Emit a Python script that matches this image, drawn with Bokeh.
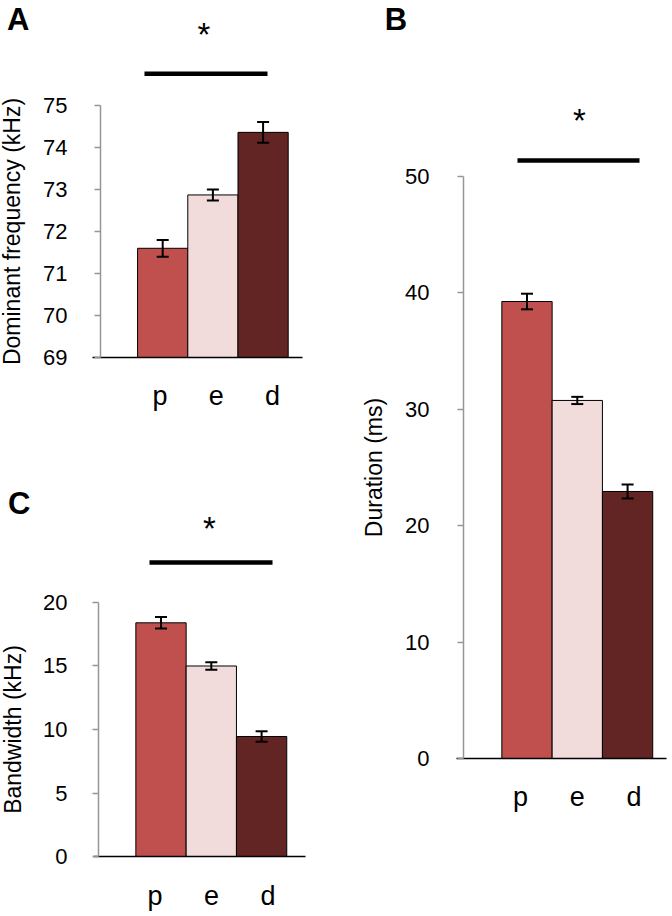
from bokeh.plotting import figure
from bokeh.models import Range1d, LinearAxis, FixedTicker, ColumnDataSource, Whisker, TeeHead
from bokeh.layouts import row, column
from bokeh.embed import file_html
from bokeh.resources import INLINE
from bokeh.core.properties import value

# ---------------- data ----------------
categories = ["p", "e", "d"]
bar_colors = ["#C0504D", "#F2DCDB", "#632523"]

freq_mean = [71.60, 72.87, 74.36]      # Dominant frequency (kHz)
freq_err = [0.20, 0.13, 0.25]
freq_ticks = [69, 70, 71, 72, 73, 74, 75]

dur_mean = [39.26, 30.76, 22.94]       # Duration (ms)
dur_err = [0.67, 0.31, 0.60]
dur_ticks = [0, 10, 20, 30, 40, 50]

bw_mean = [18.40, 15.00, 9.45]         # Bandwidth (kHz)
bw_err = [0.45, 0.29, 0.41]
bw_ticks = [0, 5, 10, 15, 20]

FONT = "Liberation Sans"
AXIS_GRAY = "#969696"


def panel(width, height, xr, yr, cat_r, means, errs, ticks, ylabel,
          yaxis_x, base_bounds, letter, letter_xy, sig_y, sig_x, star_xy,
          tick_standoff, label_standoff):
    base = ticks[0]
    p = figure(width=width, height=height,
               x_range=Range1d(*xr), y_range=Range1d(*yr),
               x_axis_location=None, y_axis_location=None,
               min_border=0, output_backend="svg", toolbar_location=None,
               outline_line_color=None, background_fill_color="white",
               border_fill_color="white")
    p.xgrid.grid_line_color = None
    p.ygrid.grid_line_color = None
    p.extra_x_ranges = {"cat": Range1d(*cat_r)}

    idx = list(range(len(categories)))
    src = ColumnDataSource(dict(
        x=idx, top=means,
        upper=[m + e for m, e in zip(means, errs)],
        lower=[m - e for m, e in zip(means, errs)],
        color=bar_colors))

    p.vbar(x="x", top="top", bottom=base, width=1.0, source=src,
           fill_color="color", line_color="black", line_width=1)

    w = Whisker(base="x", upper="upper", lower="lower", source=src,
                dimension="height", line_color="black", line_width=2,
                upper_head=TeeHead(size=12, line_width=2, line_color="black"),
                lower_head=TeeHead(size=12, line_width=2, line_color="black"),
                level="annotation")
    p.add_layout(w)

    # value axis
    yax = LinearAxis(fixed_location=yaxis_x, bounds=(ticks[0], ticks[-1]),
                     ticker=FixedTicker(ticks=ticks),
                     axis_label=ylabel,
                     axis_line_color=AXIS_GRAY, axis_line_width=1.5,
                     major_tick_line_color=AXIS_GRAY, major_tick_line_width=1.5,
                     major_tick_out=6, major_tick_in=0,
                     minor_tick_line_color=None,
                     major_label_text_font=FONT,
                     major_label_text_font_size="22px",
                     major_label_text_color="black",
                     major_label_standoff=tick_standoff,
                     axis_label_text_font=FONT,
                     axis_label_text_font_size="23px",
                     axis_label_text_font_style="normal",
                     axis_label_text_color="black",
                     axis_label_standoff=label_standoff)
    p.add_layout(yax, "left")

    # baseline
    bax = LinearAxis(fixed_location=base, bounds=base_bounds,
                     ticker=FixedTicker(ticks=[]),
                     axis_line_color="black", axis_line_width=1.5,
                     major_tick_line_color=None, minor_tick_line_color=None,
                     major_label_text_color=None)
    p.add_layout(bax, "below")

    # category labels
    cax = LinearAxis(x_range_name="cat", fixed_location=base,
                     ticker=FixedTicker(ticks=idx),
                     major_label_overrides={i: c for i, c in zip(idx, categories)},
                     axis_line_color=None, major_tick_line_color=None,
                     minor_tick_line_color=None,
                     major_label_text_font=FONT,
                     major_label_text_font_size="27px",
                     major_label_text_color="black",
                     major_label_standoff=18)
    p.add_layout(cax, "below")

    # significance bar and star
    p.segment(x0=[sig_x[0]], x1=[sig_x[1]], y0=[sig_y], y1=[sig_y],
              line_color="black", line_width=4.5)
    p.text(x=[star_xy[0]], y=[star_xy[1]], text=["*"],
           text_font=value(FONT), text_font_size="33px",
           text_align="center", text_baseline="alphabetic", text_color="black")

    # panel letter
    p.text(x=[letter_xy[0]], y=[letter_xy[1]], text=[letter],
           text_font=value(FONT), text_font_size="31px", text_font_style="bold",
           text_align="left", text_baseline="alphabetic", text_color="black")
    return p


pA = panel(328, 438, (-3.231, 3.303), (67.071, 77.5), (-2.836, 2.995),
           freq_mean, freq_err, freq_ticks, "Dominant frequency (kHz)",
           -1.239, (-1.398, 2.785), "A", (-3.10, 77.04),
           75.755, (-0.363, 2.088), (0.823, 76.68), 27, 15)

pC = panel(328, 478, (-3.191, 3.330), (-4.724, 32.913), (-2.735, 3.071),
           bw_mean, bw_err, bw_ticks, "Bandwidth (kHz)",
           -1.243, (-1.342, 2.873), "C", (-3.04, 27.80),
           23.15, (-0.229, 2.217), (0.964, 25.83), 25, 14)

pB = panel(344, 916, (-3.946, 2.893), (-13.574, 65.12), (-3.383, 2.679),
           dur_mean, dur_err, dur_ticks, "Duration (ms)",
           -1.262, (-1.402, 2.773), "B", (-2.83, 63.50),
           51.37, (-0.189, 2.237), (1.044, 54.81), 28, 15)

layout = row(column(pA, pC), pB)

open("out.html", "w").write(file_html(layout, INLINE))
